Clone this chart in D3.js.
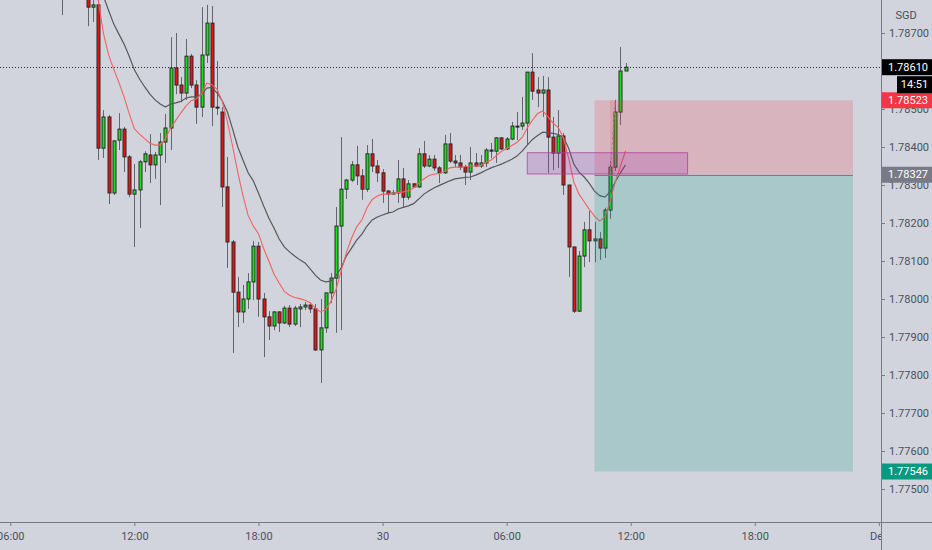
<!DOCTYPE html>
<html>
<head>
<meta charset="utf-8">
<script src="https://cdn.jsdelivr.net/npm/d3@7"></script>
<style>
  html, body { margin: 0; padding: 0; background: #d1d4dc; }
  svg { display: block; font-family: Roboto, "Liberation Sans", sans-serif; }
</style>
</head>
<body>
<div id="chart"></div>
<script>
// 15 minute bars, index 0 = 30 Nov 12:00
// [index, open, high, low, close]
const candles = [
  [-110, 1.78808, 1.78839, 1.78747, 1.78795],
  [-105, 1.78800, 1.78813, 1.78718, 1.78768],
  [-104, 1.78768, 1.78795, 1.78729, 1.78774],
  [-103, 1.78774, 1.78792, 1.78366, 1.78397],
  [-102, 1.78397, 1.78497, 1.78371, 1.78479],
  [-101, 1.78479, 1.78484, 1.78250, 1.78279],
  [-100, 1.78279, 1.78418, 1.78274, 1.78416],
  [-99, 1.78418, 1.78489, 1.78392, 1.78447],
  [-98, 1.78447, 1.78453, 1.78334, 1.78374],
  [-97, 1.78374, 1.78379, 1.78268, 1.78276],
  [-96, 1.78276, 1.78355, 1.78137, 1.78287],
  [-95, 1.78287, 1.78366, 1.78187, 1.78361],
  [-94, 1.78361, 1.78389, 1.78334, 1.78382],
  [-93, 1.78379, 1.78434, 1.78305, 1.78353],
  [-92, 1.78353, 1.78387, 1.78316, 1.78379],
  [-91, 1.78379, 1.78437, 1.78247, 1.78413],
  [-90, 1.78413, 1.78487, 1.78358, 1.78450],
  [-89, 1.78450, 1.78689, 1.78392, 1.78608],
  [-88, 1.78608, 1.78700, 1.78539, 1.78563],
  [-87, 1.78563, 1.78584, 1.78518, 1.78542],
  [-86, 1.78542, 1.78684, 1.78524, 1.78639],
  [-85, 1.78639, 1.78645, 1.78555, 1.78563],
  [-84, 1.78563, 1.78576, 1.78461, 1.78505],
  [-83, 1.78505, 1.78768, 1.78479, 1.78642],
  [-82, 1.78642, 1.78774, 1.78621, 1.78726],
  [-81, 1.78726, 1.78771, 1.78455, 1.78505],
  [-80, 1.78505, 1.78626, 1.78484, 1.78503],
  [-79, 1.78492, 1.78505, 1.78242, 1.78295],
  [-78, 1.78295, 1.78374, 1.78082, 1.78150],
  [-77, 1.78150, 1.78155, 1.77858, 1.78018],
  [-76, 1.78018, 1.78058, 1.77926, 1.77966],
  [-75, 1.77966, 1.78037, 1.77937, 1.78000],
  [-74, 1.78000, 1.78068, 1.77974, 1.78045],
  [-73, 1.78045, 1.78153, 1.77997, 1.78139],
  [-72, 1.78139, 1.78150, 1.77953, 1.78000],
  [-71, 1.78000, 1.78016, 1.77847, 1.77953],
  [-70, 1.77953, 1.77968, 1.77892, 1.77929],
  [-69, 1.77929, 1.77968, 1.77918, 1.77966],
  [-68, 1.77966, 1.77968, 1.77913, 1.77937],
  [-67, 1.77937, 1.77982, 1.77934, 1.77976],
  [-66, 1.77976, 1.77984, 1.77926, 1.77934],
  [-65, 1.77934, 1.77982, 1.77929, 1.77976],
  [-64, 1.77974, 1.77987, 1.77926, 1.77979],
  [-63, 1.77979, 1.77992, 1.77971, 1.77984],
  [-62, 1.77984, 1.77987, 1.77963, 1.77974],
  [-61, 1.77974, 1.77987, 1.77863, 1.77866],
  [-60, 1.77866, 1.78000, 1.77779, 1.77924],
  [-59, 1.77924, 1.78016, 1.77911, 1.78016],
  [-58, 1.78016, 1.78068, 1.77989, 1.78055],
  [-57, 1.78055, 1.78242, 1.77911, 1.78192],
  [-56, 1.78192, 1.78426, 1.77918, 1.78289],
  [-55, 1.78289, 1.78316, 1.78263, 1.78313],
  [-54, 1.78313, 1.78363, 1.78308, 1.78353],
  [-53, 1.78353, 1.78403, 1.78300, 1.78324],
  [-52, 1.78324, 1.78342, 1.78261, 1.78289],
  [-51, 1.78289, 1.78405, 1.78282, 1.78382],
  [-50, 1.78382, 1.78421, 1.78334, 1.78350],
  [-49, 1.78350, 1.78366, 1.78308, 1.78332],
  [-48, 1.78332, 1.78342, 1.78253, 1.78284],
  [-47, 1.78284, 1.78287, 1.78226, 1.78276],
  [-46, 1.78279, 1.78287, 1.78274, 1.78278],
  [-45, 1.78279, 1.78366, 1.78253, 1.78316],
  [-44, 1.78316, 1.78345, 1.78242, 1.78268],
  [-43, 1.78268, 1.78313, 1.78261, 1.78303],
  [-42, 1.78303, 1.78305, 1.78292, 1.78295],
  [-41, 1.78295, 1.78397, 1.78292, 1.78382],
  [-40, 1.78382, 1.78416, 1.78345, 1.78350],
  [-39, 1.78350, 1.78379, 1.78347, 1.78368],
  [-38, 1.78368, 1.78379, 1.78337, 1.78345],
  [-37, 1.78345, 1.78350, 1.78305, 1.78332],
  [-36, 1.78332, 1.78432, 1.78329, 1.78408],
  [-35, 1.78408, 1.78437, 1.78358, 1.78363],
  [-34, 1.78363, 1.78379, 1.78347, 1.78358],
  [-33, 1.78358, 1.78379, 1.78339, 1.78347],
  [-32, 1.78347, 1.78353, 1.78300, 1.78334],
  [-31, 1.78334, 1.78400, 1.78313, 1.78358],
  [-30, 1.78358, 1.78384, 1.78347, 1.78350],
  [-29, 1.78350, 1.78379, 1.78345, 1.78358],
  [-28, 1.78358, 1.78397, 1.78347, 1.78392],
  [-27, 1.78392, 1.78411, 1.78371, 1.78389],
  [-26, 1.78389, 1.78426, 1.78358, 1.78424],
  [-25, 1.78424, 1.78426, 1.78392, 1.78395],
  [-24, 1.78395, 1.78426, 1.78392, 1.78421],
  [-23, 1.78421, 1.78466, 1.78418, 1.78455],
  [-22, 1.78455, 1.78492, 1.78418, 1.78454],
  [-21, 1.78455, 1.78532, 1.78445, 1.78463],
  [-20, 1.78463, 1.78597, 1.78405, 1.78597],
  [-19, 1.78597, 1.78647, 1.78524, 1.78547],
  [-18, 1.78550, 1.78584, 1.78505, 1.78542],
  [-17, 1.78542, 1.78587, 1.78479, 1.78550],
  [-16, 1.78550, 1.78584, 1.78332, 1.78426],
  [-15, 1.78426, 1.78479, 1.78339, 1.78384],
  [-14, 1.78384, 1.78497, 1.78345, 1.78429],
  [-13, 1.78429, 1.78437, 1.78274, 1.78300],
  [-12, 1.78300, 1.78300, 1.78058, 1.78137],
  [-11, 1.78137, 1.78137, 1.77963, 1.77968],
  [-10, 1.77968, 1.78126, 1.77966, 1.78113],
  [-9, 1.78113, 1.78203, 1.78084, 1.78182],
  [-8, 1.78182, 1.78232, 1.78097, 1.78153],
  [-7, 1.78153, 1.78203, 1.78097, 1.78158],
  [-6, 1.78158, 1.78176, 1.78103, 1.78134],
  [-5, 1.78134, 1.78240, 1.78108, 1.78234],
  [-4, 1.78234, 1.78363, 1.78211, 1.78347],
  [-3, 1.78347, 1.78524, 1.78337, 1.78492],
  [-2, 1.78492, 1.78663, 1.78458, 1.78600],
  [-1, 1.78600, 1.78621, 1.78600, 1.78610]
];

// fast moving average (red), one value per bar from index -104
const fastStart = -104;
const fastMA = [
  1.78866, 1.78787, 1.78700, 1.78643, 1.78605, 1.78570, 1.78532, 1.78488, 1.78448, 1.78434,
  1.78422, 1.78410, 1.78405, 1.78405, 1.78422, 1.78450, 1.78470, 1.78490, 1.78508, 1.78522,
  1.78527, 1.78540, 1.78568, 1.78564, 1.78552, 1.78520, 1.78466, 1.78402, 1.78333, 1.78272,
  1.78220, 1.78192, 1.78172, 1.78133, 1.78100, 1.78066, 1.78042, 1.78020, 1.78010, 1.78004,
  1.78001, 1.77997, 1.77990, 1.77976, 1.77966, 1.77972, 1.77993, 1.78025, 1.78074, 1.78122,
  1.78160, 1.78190, 1.78208, 1.78240, 1.78262, 1.78271, 1.78276, 1.78276, 1.78278, 1.78280,
  1.78282, 1.78285, 1.78292, 1.78305, 1.78316, 1.78325, 1.78329, 1.78330, 1.78336, 1.78345,
  1.78347, 1.78347, 1.78348, 1.78350, 1.78350, 1.78351, 1.78359, 1.78366, 1.78377, 1.78389,
  1.78396, 1.78404, 1.78412, 1.78425, 1.78450, 1.78471, 1.78488, 1.78495, 1.78479, 1.78463,
  1.78451, 1.78423, 1.78370, 1.78308, 1.78276, 1.78256, 1.78236, 1.78218, 1.78205, 1.78216,
  1.78255, 1.78308, 1.78348, 1.78390
];

// slow moving average (grey), one value per bar from index -102
const slowStart = -102;
const slowMA = [
  1.78797, 1.78760, 1.78724, 1.78697, 1.78671, 1.78639, 1.78603, 1.78579, 1.78558, 1.78539,
  1.78524, 1.78513, 1.78505, 1.78513, 1.78516, 1.78520, 1.78529, 1.78532, 1.78532, 1.78539,
  1.78555, 1.78557, 1.78542, 1.78521, 1.78492, 1.78447, 1.78400, 1.78366, 1.78332, 1.78311,
  1.78279, 1.78245, 1.78213, 1.78187, 1.78158, 1.78137, 1.78124, 1.78113, 1.78103, 1.78095,
  1.78079, 1.78063, 1.78050, 1.78045, 1.78047, 1.78061, 1.78082, 1.78113, 1.78134, 1.78155,
  1.78171, 1.78192, 1.78208, 1.78216, 1.78221, 1.78226, 1.78229, 1.78237, 1.78241, 1.78245,
  1.78251, 1.78263, 1.78276, 1.78285, 1.78293, 1.78299, 1.78305, 1.78311, 1.78316, 1.78318,
  1.78320, 1.78321, 1.78326, 1.78332, 1.78339, 1.78345, 1.78350, 1.78355, 1.78361, 1.78368,
  1.78376, 1.78389, 1.78405, 1.78420, 1.78430, 1.78439, 1.78437, 1.78436, 1.78433, 1.78425,
  1.78397, 1.78355, 1.78334, 1.78321, 1.78304, 1.78284, 1.78272, 1.78268, 1.78282, 1.78308,
  1.78332, 1.78353
];

// axis ticks
const timeTicks = [-120, -96, -72, -48, -24, 0, 24, 48];
const timeLabels = ["06:00", "12:00", "18:00", "30", "06:00", "12:00", "18:00", "Dec"];
const priceTicks = [1.775, 1.776, 1.777, 1.778, 1.779, 1.780, 1.781, 1.782, 1.783, 1.784, 1.785, 1.786, 1.787];

// drawings
const lastPrice = 1.78610;
const countdown = "14:51";
const zoneBars = [-20, 11];
const zonePrices = [1.78385, 1.78329];
const positionBars = [-7, 43];
const entryPrice = 1.78327;
const stopPrice = 1.78523;
const targetPrice = 1.77546;
const tradeBars = [-4, -3];   // entry filled, stop touched

// Chart geometry
const W = 932, H = 550;
const plotRight = 881, plotBottom = 522;

const svg = d3.select("#chart")
  .append("svg")
  .attr("width", W)
  .attr("height", H);

svg.append("rect")
  .attr("width", W)
  .attr("height", H)
  .attr("fill", "#d1d4dc");

// Scales: one bar = 5.17px, price 0.001 = 38px
const x = d3.scaleLinear()
  .domain([-120, 48])
  .range([10.3, 878.86]);

const y = d3.scaleLinear()
  .domain([1.775, 1.787])
  .range([489, 33]);

svg.append("clipPath")
  .attr("id", "plot")
  .append("rect")
  .attr("width", plotRight)
  .attr("height", plotBottom);

const plot = svg.append("g").attr("clip-path", "url(#plot)");

const bars = candles.map(d => ({i: d[0], o: d[1], h: d[2], l: d[3], c: d[4]}));
const px = i => Math.round(x(i)) + 0.5;

// wicks
plot.selectAll(".wick")
  .data(bars)
  .enter()
  .append("line")
  .attr("x1", d => px(d.i))
  .attr("x2", d => px(d.i))
  .attr("y1", d => y(d.h))
  .attr("y2", d => y(d.l))
  .attr("stroke", "#63656c")
  .attr("stroke-width", 1);

// bodies
plot.selectAll(".body")
  .data(bars)
  .enter()
  .append("rect")
  .attr("x", d => px(d.i) - 1.5)
  .attr("y", d => Math.min(y(d.o), y(d.c)))
  .attr("width", 3)
  .attr("height", d => Math.max(1, Math.abs(y(d.o) - y(d.c))))
  .attr("fill", d => d.c >= d.o ? "#14e314" : "#e81212")
  .attr("stroke", "#2a2a2a")
  .attr("stroke-width", 1);

// moving averages
const maLine = d3.line()
  .x(d => x(d[0]))
  .y(d => y(d[1]));

plot.append("path")
  .datum(slowMA.map((v, j) => [slowStart + j, v]))
  .attr("fill", "none")
  .attr("stroke", "#56585e")
  .attr("stroke-width", 1.2)
  .attr("d", maLine);

plot.append("path")
  .datum(fastMA.map((v, j) => [fastStart + j, v]))
  .attr("fill", "none")
  .attr("stroke", "#f2625f")
  .attr("stroke-width", 1.1)
  .attr("d", maLine);

// short position tool
plot.append("rect")
  .attr("x", x(positionBars[0]))
  .attr("y", y(stopPrice))
  .attr("width", x(positionBars[1]) - x(positionBars[0]))
  .attr("height", y(entryPrice) - y(stopPrice))
  .attr("fill", "rgba(242,54,69,0.2)");

plot.append("rect")
  .attr("x", x(positionBars[0]))
  .attr("y", y(entryPrice))
  .attr("width", x(positionBars[1]) - x(positionBars[0]))
  .attr("height", y(targetPrice) - y(entryPrice))
  .attr("fill", "rgba(8,153,129,0.2)");

plot.append("rect")
  .attr("x", x(tradeBars[0]))
  .attr("y", y(stopPrice))
  .attr("width", x(tradeBars[1]) - x(tradeBars[0]))
  .attr("height", y(entryPrice) - y(stopPrice))
  .attr("fill", "rgba(242,54,69,0.15)");

plot.append("line")
  .attr("x1", x(tradeBars[0]))
  .attr("x2", x(tradeBars[1]))
  .attr("y1", y(entryPrice))
  .attr("y2", y(stopPrice))
  .attr("stroke", "#8e9099")
  .attr("stroke-dasharray", "3,2");

plot.append("line")
  .attr("x1", x(positionBars[0]))
  .attr("x2", x(positionBars[1]))
  .attr("y1", Math.round(y(entryPrice)) + 0.5)
  .attr("y2", Math.round(y(entryPrice)) + 0.5)
  .attr("stroke", "#787b86");

// supply zone rectangle
plot.append("rect")
  .attr("x", x(zoneBars[0]))
  .attr("y", y(zonePrices[0]))
  .attr("width", x(zoneBars[1]) - x(zoneBars[0]))
  .attr("height", y(zonePrices[1]) - y(zonePrices[0]))
  .attr("fill", "rgba(156,39,176,0.2)")
  .attr("stroke", "rgba(176,60,150,0.75)")
  .attr("stroke-width", 1);

// last price dotted line
plot.append("line")
  .attr("x1", 0)
  .attr("x2", plotRight)
  .attr("y1", Math.round(y(lastPrice)) + 0.5)
  .attr("y2", Math.round(y(lastPrice)) + 0.5)
  .attr("stroke", "#2a2e39")
  .attr("stroke-dasharray", "1,2");

// time axis
const xAxis = svg.append("g")
  .attr("transform", `translate(0,${plotBottom})`)
  .call(d3.axisBottom(x)
    .tickValues(timeTicks)
    .tickFormat((d, i) => timeLabels[i])
    .tickSize(4)
    .tickPadding(6));

xAxis.select(".domain").remove();
xAxis.selectAll("line").attr("stroke", "#787b86");
xAxis.selectAll("text")
  .attr("fill", "#4c505b")
  .style("font-size", "11px")
  .style("font-family", "Roboto, sans-serif");

// price axis panel
svg.append("rect")
  .attr("x", plotRight + 1)
  .attr("y", 0)
  .attr("width", W - plotRight - 1)
  .attr("height", H)
  .attr("fill", "#d1d4dc");

const yAxis = svg.append("g")
  .attr("transform", `translate(${plotRight},0)`)
  .call(d3.axisRight(y)
    .tickValues(priceTicks)
    .tickFormat(d3.format(".5f"))
    .tickSize(4)
    .tickPadding(4));

yAxis.select(".domain").remove();
yAxis.selectAll("line").attr("stroke", "#787b86");
yAxis.selectAll("text")
  .attr("fill", "#4c505b")
  .style("font-size", "11px")
  .style("font-family", "Roboto, sans-serif");

// panel borders
svg.append("line")
  .attr("x1", plotRight + 0.5).attr("x2", plotRight + 0.5)
  .attr("y1", 0).attr("y2", H)
  .attr("stroke", "#787b86");

svg.append("line")
  .attr("x1", 0).attr("x2", W)
  .attr("y1", plotBottom + 0.5).attr("y2", plotBottom + 0.5)
  .attr("stroke", "#787b86");

svg.append("text")
  .attr("x", 906)
  .attr("y", 16)
  .attr("text-anchor", "middle")
  .attr("dominant-baseline", "middle")
  .attr("fill", "#4c505b")
  .style("font-size", "11px")
  .text("SGD");

// price labels on the axis
function priceLabel(price, bg) {
  const cy = y(price);
  svg.append("rect")
    .attr("x", plotRight + 1)
    .attr("y", cy - 8)
    .attr("width", W - plotRight - 1)
    .attr("height", 16)
    .attr("fill", bg);
  svg.append("text")
    .attr("x", 888)
    .attr("y", cy + 0.5)
    .attr("dominant-baseline", "middle")
    .attr("fill", "#ffffff")
    .style("font-size", "11px")
    .text(d3.format(".5f")(price));
}

priceLabel(entryPrice, "#787b86");
priceLabel(targetPrice, "#089981");
priceLabel(stopPrice, "#f23645");
priceLabel(lastPrice, "#000000");

// bar countdown under last price
svg.append("rect")
  .attr("x", 897)
  .attr("y", y(lastPrice) + 9)
  .attr("width", W - 897)
  .attr("height", 17)
  .attr("fill", "#000000");

svg.append("text")
  .attr("x", 914.5)
  .attr("y", y(lastPrice) + 18)
  .attr("text-anchor", "middle")
  .attr("dominant-baseline", "middle")
  .attr("fill", "#ffffff")
  .style("font-size", "11px")
  .text(countdown);
</script>
</body>
</html>
